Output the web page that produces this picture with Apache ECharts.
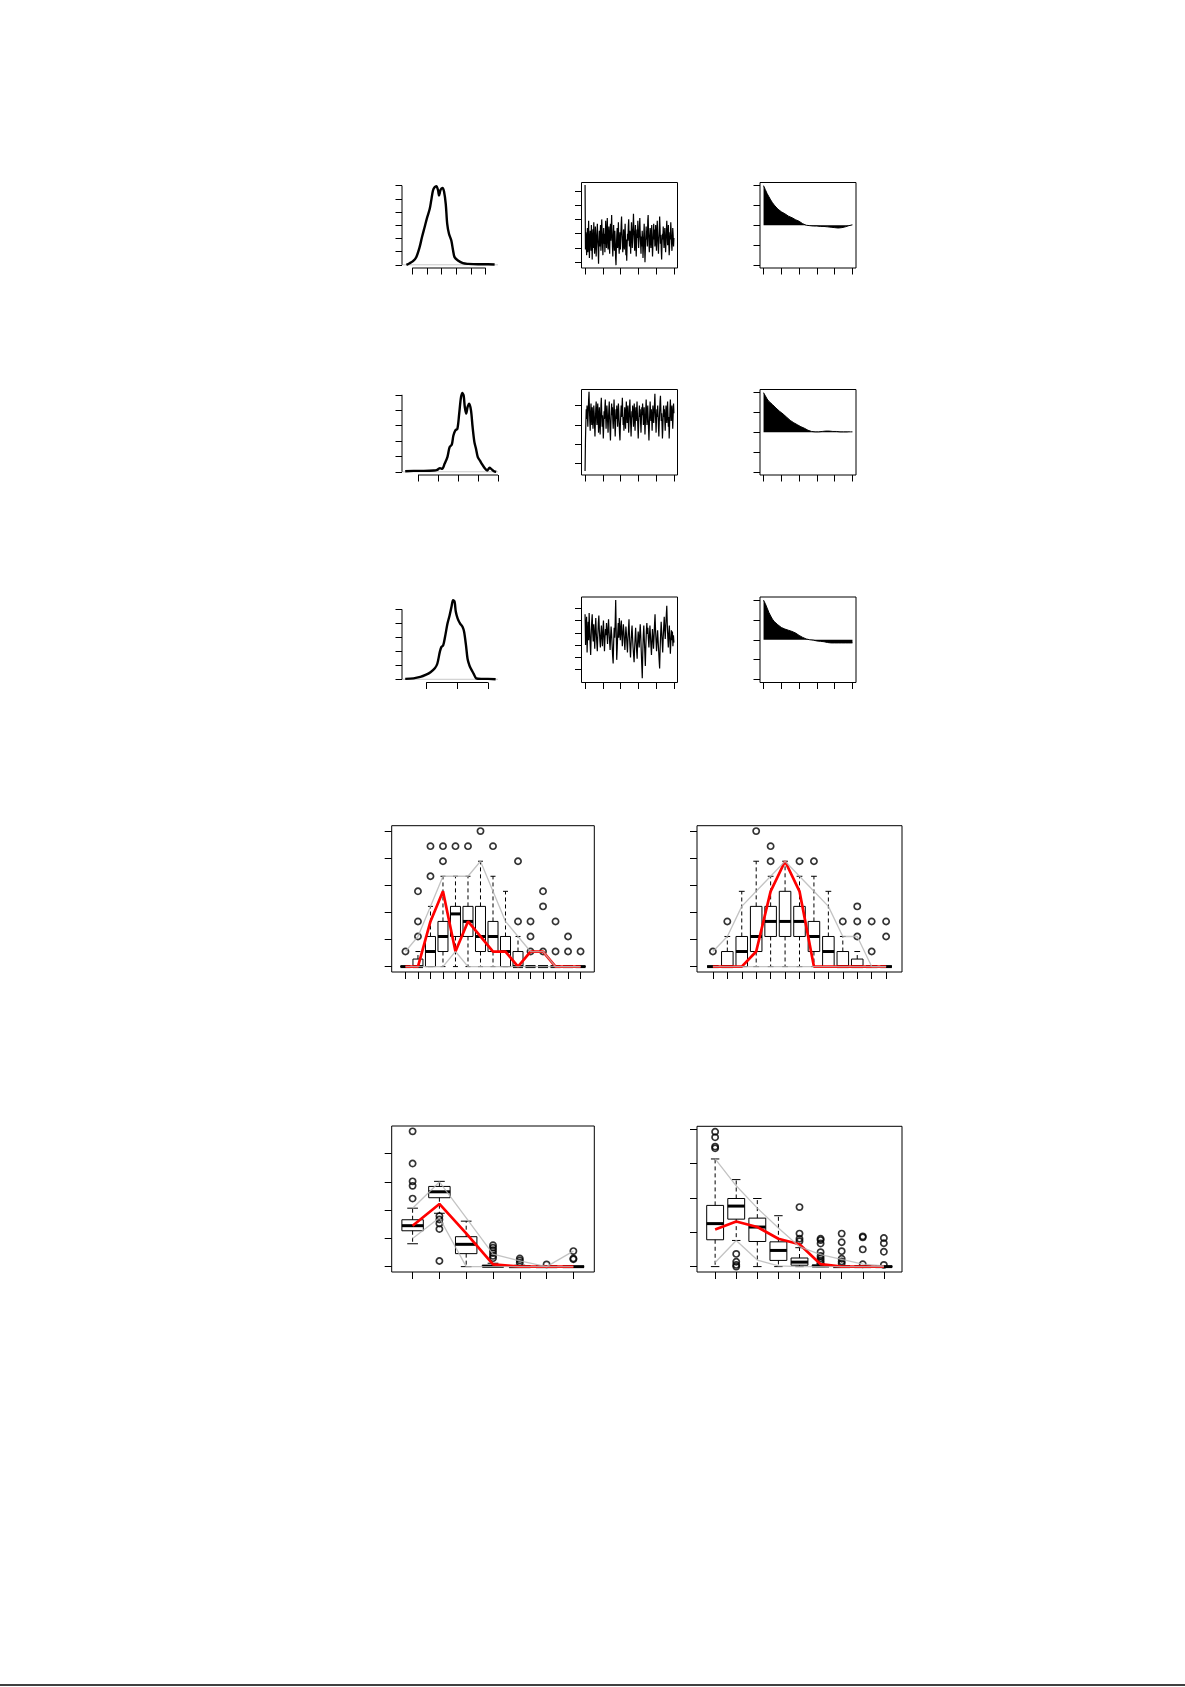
<!DOCTYPE html>
<html><head><meta charset="utf-8">
<script src="https://cdn.jsdelivr.net/npm/echarts@6/dist/echarts.min.js"></script>
<style>html,body{margin:0;padding:0;background:#fff}#c{width:1185px;height:1687px}</style>
</head><body><div id="c"></div><script>
// ================= DATA =================
// posterior densities (rows 1-3, left column)
const dens1X = [-0.40,-0.18,0.05,0.27,0.50,0.66,0.84,1.02,1.19,1.29,1.41,1.52,1.64,1.76,1.82,1.93,2.05,2.16,2.28,2.38,2.50,2.66,2.78,2.88,3.11,3.45,3.80,4.47,5.16,5.61];
const dens1Y = [0.00,0.12,0.28,0.58,1.34,2.09,2.85,3.61,4.24,4.87,5.63,5.88,5.96,5.63,5.25,5.68,5.83,5.58,4.62,3.10,2.35,1.84,1.08,0.58,0.33,0.12,0.07,0.04,0.04,0.02];
const dens2X = [-0.64,-0.22,0.29,0.79,0.96,1.10,1.21,1.33,1.47,1.58,1.69,1.77,1.87,1.97,2.06,2.14,2.21,2.28,2.34,2.41,2.48,2.56,2.65,2.73,2.82,2.90,2.99,3.09,3.19,3.32,3.46,3.58,3.66,3.80,3.91];
const dens2Y = [0.04,0.06,0.06,0.08,0.13,0.24,0.19,0.52,0.95,1.60,1.76,2.36,2.69,2.80,3.78,4.75,5.12,4.97,4.21,3.78,4.21,4.43,3.99,2.91,1.93,1.50,0.95,0.74,0.52,0.26,0.08,0.26,0.19,0.04,0.00];
const dens3X = [-0.68,-0.41,-0.19,-0.02,0.14,0.28,0.36,0.44,0.49,0.55,0.61,0.69,0.76,0.82,0.87,0.92,0.96,1.02,1.10,1.18,1.23,1.29,1.34,1.40,1.45,1.54,1.62,1.78,2.00,2.25];
const dens3Y = [0.03,0.07,0.17,0.31,0.51,0.79,1.11,1.94,2.30,2.42,3.02,3.98,4.58,5.18,5.66,5.54,4.82,4.34,3.98,3.74,3.38,2.42,1.47,0.99,0.75,0.39,0.07,0.03,0.03,0.00];
const dens1XTicks = [0,1,2,3,4,5], dens1YTicks = [0,1,2,3,4,5,6];
const dens2XTicks = [0,1,2,3,4],   dens2YTicks = [0,1,2,3,4,5];
const dens3XTicks = [0,1,2],       dens3YTicks = [0,1,2,3,4,5];

// MCMC traces (middle column)
const trace1 = [5.4,0.9,2.1,1.3,0.5,1.8,2.4,0.7,1.5,2.9,1.1,0.3,1.6,2.2,1.9,0.8,2.6,1.4,0.2,1.7,2.3,1.0,2.8,1.6,0.6,
  1.2,2.5,1.8,0.4,1.3,2.0,2.7,1.5,0.9,-0.1,1.4,2.2,1.1,1.9,2.6,0.8,1.5,3.0,2.1,1.2,0.5,1.8,2.4,1.3,2.0,
  0.7,1.6,2.9,2.2,1.0,1.7,3.1,1.9,0.9,1.4,2.5,1.2,0.6,2.0,2.7,1.5,2.3,3.3,2.0,1.1,0.4,1.8,2.6,1.4,0.8,
  2.2,1.5,0.3,-0.2,1.1,1.9,2.4,1.0,1.7,2.8,1.3,0.6,1.5,2.1,0.9,1.8,2.6,3.2,2.1,1.4,0.7,1.2,2.3,1.6,0.9,
  1.9,2.7,1.3,0.5,1.6,0.1,1.2,2.0,1.5,2.5,3.0,1.8,1.1,2.2,1.4,0.6,1.9,2.8,2.2,1.0,1.7,2.4,3.4,2.3,1.5,
  0.8,2.0,2.6,1.2,0.4,1.5,2.3,1.7,2.9,1.9,1.0,1.6,2.5,3.1,2.0,1.3,0.6,1.8,1.1,2.2,1.6,0.3,1.0,1.9,2.7,
  1.4,0.0,0.9,1.7,2.5,1.6,2.2,1.1,2.9,3.3,2.1,1.3,0.7,1.6,2.4,1.8,1.0,2.0,2.6,1.5,0.4,1.2,1.9,2.7,1.6,
  2.3,1.1,1.8,2.6,1.4,0.8,2.1,2.9,1.9,1.2,0.6,1.5,2.2,3.2,2.4,1.3,1.9,0.9,0.2,1.3,2.0,1.6,2.5,1.7,1.0,
  1.8,2.4,1.5,0.7,1.4,2.3,2.9,2.0,1.2,1.7,2.6,1.4,0.5,1.1,2.1,1.6,2.8,2.2,1.3,0.8,1.5,2.4,1.9,1.1,1.7];
const trace2 = [-0.38,1.2,2.1,2.8,2.3,3.0,2.5,1.9,2.7,3.3,3.7,2.8,2.2,1.7,2.6,3.1,2.4,2.0,2.9,2.5,1.8,2.3,3.0,2.6,1.9,
  1.4,2.2,2.8,3.2,2.5,2.0,2.7,3.1,2.3,1.6,2.4,2.9,2.1,1.5,2.2,3.0,3.4,2.6,1.9,2.5,2.0,1.3,1.9,2.7,2.3,
  2.9,3.3,2.5,1.8,2.4,3.0,2.6,2.1,1.6,2.3,2.8,3.2,2.4,1.7,1.2,2.0,2.6,3.1,2.5,2.9,2.2,1.8,2.5,3.3,2.7,
  2.0,1.4,2.1,2.8,2.3,3.0,2.6,1.9,2.4,3.1,2.7,2.1,1.5,1.2,2.0,2.5,3.0,2.4,2.8,3.4,2.6,2.0,2.4,1.7,2.3,
  2.9,2.4,1.8,2.6,3.2,2.7,2.1,2.5,3.0,2.2,1.6,2.3,2.9,3.3,2.6,2.0,1.4,2.1,2.7,2.4,3.0,2.5,1.9,2.6,3.1,
  2.3,1.7,2.4,2.9,2.2,2.7,3.2,2.5,1.9,1.3,2.0,2.6,3.0,2.4,2.8,2.1,1.6,2.3,2.9,2.5,3.1,2.6,2.0,2.4,2.9,
  2.2,1.5,2.1,2.8,3.3,2.6,2.0,2.5,3.0,2.4,1.8,1.2,1.9,2.6,3.2,2.7,2.2,2.8,2.3,1.7,2.4,3.0,2.6,2.1,2.5,
  3.1,3.6,2.8,2.2,1.6,2.3,2.8,2.4,3.0,2.5,1.9,1.4,2.1,2.7,3.2,3.5,2.8,2.2,2.6,2.0,1.3,1.8,2.5,3.0,2.4,
  2.8,2.2,1.7,2.4,3.0,2.6,2.1,2.7,3.2,2.5,1.9,2.4,1.3,2.0,2.8,3.3,2.7,2.2,2.6,3.0,2.4,1.8,2.5,3.1,2.6];
const trace3 = [4.5,2.0,3.6,4.3,1.4,2.9,3.9,2.4,4.6,3.3,2.1,1.2,2.8,3.9,4.5,3.0,2.3,3.7,2.7,1.7,3.3,4.2,3.0,2.2,1.5,
  2.8,3.8,4.4,3.2,2.4,1.8,2.9,3.6,2.6,1.9,3.2,4.0,2.7,1.5,2.5,3.3,2.8,3.8,2.9,2.1,3.4,4.1,3.1,2.3,1.6,
  2.7,3.5,2.9,2.0,1.1,0.5,2.2,3.4,2.6,3.9,5.67,3.1,0.8,1.8,3.0,3.8,2.6,4.2,3.5,2.4,3.3,4.0,2.8,1.9,3.0,
  3.7,3.1,2.2,1.6,2.7,3.5,2.9,2.1,1.4,2.5,3.3,4.1,2.7,1.8,1.0,2.1,3.0,3.6,2.6,1.8,1.2,0.6,1.7,2.6,3.4,
  2.4,1.5,0.9,2.3,3.1,2.5,1.8,2.9,3.7,2.8,1.5,0.4,-0.7,1.4,2.8,3.6,2.5,1.4,0.3,1.9,3.1,3.8,2.9,3.4,2.5,
  1.8,2.7,3.6,2.8,1.9,1.2,2.4,3.3,2.6,1.7,2.6,3.7,4.5,3.2,2.3,1.5,2.4,3.2,2.4,1.6,0.8,0.1,1.7,2.9,3.9,
  3.1,2.2,1.4,2.6,3.5,4.3,3.2,2.5,3.6,4.4,5.2,3.7,2.6,1.8,2.9,3.6,2.5,1.3,2.3,3.2,2.4,3.1,1.9,2.8,2.2];
const traceXTicks = [0,200,400,600,800,1000];
const trace1YTicks = [0,1,2,3,4,5], trace2YTicks = [0,1,2,3], trace3YTicks = [0,1,2,3,4,5];

// autocorrelations, lags 0..50 (right column)
const acf1 = [1.0,0.90,0.80,0.72,0.64,0.57,0.51,0.46,0.41,0.37,0.34,0.31,0.29,0.26,0.23,0.21,0.19,0.17,0.14,0.12,0.10,0.07,0.04,0.02,0.00,-0.01,-0.01,-0.01,-0.02,-0.02,-0.02,-0.02,-0.03,-0.03,-0.03,-0.04,-0.04,-0.04,-0.05,-0.05,-0.06,-0.06,-0.07,-0.07,-0.06,-0.05,-0.04,-0.02,-0.01,0.00,0.01];
const acf2 = [1.0,0.92,0.84,0.78,0.73,0.70,0.66,0.61,0.57,0.53,0.49,0.46,0.42,0.38,0.34,0.30,0.27,0.24,0.21,0.19,0.17,0.14,0.12,0.10,0.07,0.05,0.03,0.02,0.01,0.01,0.01,0.01,0.02,0.02,0.02,0.03,0.03,0.03,0.02,0.02,0.02,0.02,0.01,0.01,0.01,0.01,0.01,0.01,0.01,0.01,0.01];
const acf3 = [1.0,0.91,0.80,0.69,0.60,0.52,0.46,0.42,0.38,0.34,0.31,0.29,0.27,0.25,0.24,0.22,0.21,0.19,0.17,0.14,0.11,0.09,0.06,0.04,0.02,0.01,0.00,-0.01,-0.01,-0.02,-0.03,-0.03,-0.04,-0.04,-0.05,-0.06,-0.07,-0.08,-0.08,-0.08,-0.08,-0.08,-0.08,-0.08,-0.08,-0.08,-0.08,-0.08,-0.08,-0.08,-0.08];
const acfXTicks = [0,10,20,30,40,50], acfYTicks = [-1,-0.5,0,0.5,1];

// boxplot panel A (15 classes)
const aLo  = [0,0,0,0,0,0,0,0,0,0,0,0,0,0,0];
const aQ1  = [0,0,0,1,2,2,1,1,0,0,0,0,0,0,0];
const aMed = [0,0,1,2,3.5,3,2,2,1,0,0,0,0,0,0];
const aQ3  = [0,0.5,2,3,4,4,4,3,2,1,0,0,0,0,0];
const aHi  = [0,1,4,6,6,6,7,6,5,2,0,0,0,0,0];
const aOut = [[1],[2,3,5],[6,8],[7,8],[8],[8],[9],[8],[],[3,7],[1,2,3],[1,4,5],[1,3],[1,2],[1]];
const aObs = [0,0,3,5,1,3,2,1,1,0,1,1,0,0,0];
const aUp  = [1,2,4,6,6,6,7,5,3,2,1,1,0,0,0];
const aLow = [0,0,0,0,1,0,0,0,0,0,0,0,0,0,0];
// boxplot panel B (13 classes)
const bLo  = [0,0,0,0,0,0,0,0,0,0,0,0,0];
const bQ1  = [0,0,0,1,2,2,2,1,0,0,0,0,0];
const bMed = [0,0,1,2,3,3,3,2,1,0,0,0,0];
const bQ3  = [0,1,2,4,4,5,4,3,2,1,0.5,0,0];
const bHi  = [0,2,5,7,6,7,6,6,5,2,1,0,0];
const bOut = [[1],[3],[],[9],[7,8],[],[7],[7],[],[3],[2,3,4],[1,3],[2,3]];
const bObs = [0,0,0,1,5,7,5,0,0,0,0,0,0];
const bUp  = [1,2,4,5,6,7,6,5,4,2,2,0,0];
const bLow = [0,0,0,0,0,0,0,0,0,0,0,0,0];
const countTicks = [0,1.8,3.6,5.4,7.2,9];
// boxplot panel C (7 classes)
const cLo  = [0.81,1.89,0,0,0,0,0];
const cQ1  = [1.27,2.44,0.46,0,0,0,0];
const cMed = [1.45,2.65,0.79,0.01,0,0,0];
const cQ3  = [1.66,2.84,1.06,0.05,0.02,0,0];
const cHi  = [2.07,3.02,1.61,0.12,0.05,0,0];
const cOut = [[2.41,2.86,3.02,3.65,4.79],[1.79,1.67,1.53,1.33,0.20],[],[0.30,0.38,0.48,0.58,0.67,0.76],[0.14,0.22,0.29],[0.08],[0.26,0.29,0.55]];
const cObs = [1.45,2.22,1.18,0.08,0,0,0];
const cUp  = [2.07,3.00,1.73,0.44,0.20,0,0.55];
const cLow = [1.00,1.73,0,0,0,0,0];
// boxplot panel D (9 classes)
const dLo  = [0,0.76,0,0,0,0,0,0,0];
const dQ1  = [0.78,1.38,0.73,0.18,0.04,0,0,0,0];
const dMed = [1.25,1.76,1.15,0.47,0.13,0.02,0,0,0];
const dQ3  = [1.78,1.98,1.41,0.72,0.25,0.04,0,0,0];
const dHi  = [3.13,2.53,1.98,1.48,0.55,0.08,0,0,0];
const dOut = [[3.44,3.49,3.76,3.92],[0.37,0.14,0.05,0.0],[],[],[0.74,0.81,0.96,1.73],[0.12,0.18,0.24,0.31,0.42,0.67,0.77,0.81],[0.09,0.15,0.23,0.45,0.71,0.96],[0.07,0.50,0.85,0.88],[0.05,0.43,0.68,0.83]];
const dObs = [1.08,1.31,1.15,0.81,0.65,0.07,0,0,0];
const dUp  = [3.13,2.35,1.70,1.12,0.58,0.35,0.21,0.07,0.02];
const dLow = [0.12,0.76,0.19,0.02,0,0,0,0,0];
const unitTicks = [0,1,2,3,4];

// ================= LAYOUT =================
const COLS = [402, 581.5, 760], COLW = 96;
const ROWS = [182.5, 389.5, 597], ROWH = 85.5;
const TL = 6.5;
const grid = [], xAxis = [], yAxis = [], series = [];

function axis(gi, ext, ticks, len) {
  return {type:'value', gridIndex:gi, min:ext[0], max:ext[1],
    axisLine:{show:false, onZero:false}, splitLine:{show:false}, axisLabel:{show:false},
    axisTick:{show:true, inside:false, length:len, lineStyle:{color:'#000', width:1}, customValues:ticks},
    axisPointer:{show:false}};
}
function panel(rect, xExt, yExt, xTicks, yTicks, boxed, len) {
  const gi = grid.length;
  grid.push({left:rect[0], top:rect[1], width:rect[2], height:rect[3], show:boxed,
    borderColor:'#000', borderWidth:1, backgroundColor:'rgba(0,0,0,0)'});
  xAxis.push(axis(gi, xExt, xTicks, len));
  yAxis.push(axis(gi, yExt, yTicks, len));
  return gi;
}
function line(gi, data, ls, extra) {
  return Object.assign({type:'line', xAxisIndex:gi, yAxisIndex:gi, data:data, symbol:'none',
    silent:true, animation:false, lineStyle:ls}, extra || {});
}
const zip = (xs, ys) => xs.map((x, i) => [x, ys[i]]);

function density(c, r, dx, dy, xExt, yExt, xt, yt) {
  const gi = panel([COLS[c], ROWS[r], COLW, ROWH], xExt, yExt, xt, yt, false, TL);
  series.push(line(gi, [[xExt[0], 0], [xExt[1], 0]], {color:'#c8c8c8', width:1}));
  series.push(line(gi, zip(dx, dy), {color:'#000', width:2.4}, {smooth:0.3}));
  series.push(line(gi, [[xt[0], yExt[0]], [xt[xt.length-1], yExt[0]]], {color:'#000', width:1}, {clip:false}));
  series.push(line(gi, [[xExt[0], yt[0]], [xExt[0], yt[yt.length-1]]], {color:'#000', width:1}, {clip:false}));
}
function trace(r, vals, yExt, yt) {
  const gi = panel([COLS[1], ROWS[r], COLW, ROWH], [-39, 1040], yExt, traceXTicks, yt, true, TL);
  const n = vals.length;
  series.push(line(gi, vals.map((v, i) => [1 + i * 999 / (n - 1), v]), {color:'#000', width:1.2}));
}
function acf(r, vals) {
  const gi = panel([COLS[2], ROWS[r], COLW, ROWH], [-2, 52], [-1.08, 1.08], acfXTicks, acfYTicks, true, TL);
  series.push(line(gi, vals.map((v, i) => [i, v]), {color:'#000', width:1},
    {areaStyle:{color:'#000', opacity:1}}));
}

density(0, 0, dens1X, dens1Y, [-0.70, 5.84], [-0.242, 6.235], dens1XTicks, dens1YTicks);
density(0, 1, dens2X, dens2Y, [-0.80, 4.00], [-0.208, 5.344], dens2XTicks, dens2YTicks);
density(0, 2, dens3X, dens3Y, [-0.784, 2.327], [-0.229, 5.88], dens3XTicks, dens3YTicks);
trace(0, trace1, [-0.40, 5.58], trace1YTicks);
trace(1, trace2, [-0.58, 3.82], trace2YTicks);
trace(2, trace3, [-1.04, 5.91], trace3YTicks);
acf(0, acf1); acf(1, acf2); acf(2, acf3);

function renderBox(params, api) {
  const x = api.value(0);
  const lo = api.coord([x, api.value(1)]), q1 = api.coord([x, api.value(2)]), md = api.coord([x, api.value(3)]);
  const q3 = api.coord([x, api.value(4)]), hi = api.coord([x, api.value(5)]);
  const w = api.size([0.8, 0])[0], cx = md[0], st = w * 0.25;
  const s = {stroke:'#000', fill:'none', lineWidth:1};
  const d = {stroke:'#000', lineWidth:1, lineDash:[4, 3]};
  return {type:'group', children:[
    {type:'line', shape:{x1:cx, y1:q3[1], x2:cx, y2:hi[1]}, style:d},
    {type:'line', shape:{x1:cx, y1:q1[1], x2:cx, y2:lo[1]}, style:d},
    {type:'line', shape:{x1:cx-st, y1:hi[1], x2:cx+st, y2:hi[1]}, style:s},
    {type:'line', shape:{x1:cx-st, y1:lo[1], x2:cx+st, y2:lo[1]}, style:s},
    {type:'rect', shape:{x:cx-w/2, y:q3[1], width:w, height:q1[1]-q3[1]}, style:s},
    {type:'line', shape:{x1:cx-w/2, y1:md[1], x2:cx+w/2, y2:md[1]}, style:{stroke:'#000', lineWidth:3}}
  ]};
}
function boxPanel(rect, xExt, yExt, yt, lo, q1, md, q3, hi, out, obs, up, low) {
  const cats = lo.map((v, i) => i + 1);
  const gi = panel(rect, xExt, yExt, cats, yt, true, 7);
  series.push({type:'custom', xAxisIndex:gi, yAxisIndex:gi, renderItem:renderBox, silent:true, animation:false,
    encode:{x:0, y:[1,2,3,4,5]}, z:2,
    data: cats.map((c, i) => [c, lo[i], q1[i], md[i], q3[i], hi[i]])});
  const pts = [];
  out.forEach((arr, i) => arr.forEach(v => pts.push([i + 1, v])));
  series.push({type:'scatter', xAxisIndex:gi, yAxisIndex:gi, data:pts, symbol:'circle', symbolSize:6.2, silent:true,
    animation:false, z:3, itemStyle:{color:'rgba(0,0,0,0)', borderColor:'#000', borderWidth:1.7}});
  series.push(line(gi, zip(cats, obs), {color:'#ff0000', width:2.7}, {z:4}));
  series.push(line(gi, zip(cats, up), {color:'#b4b4b4', width:1.3, opacity:0.8}, {z:5}));
  series.push(line(gi, zip(cats, low), {color:'#b4b4b4', width:1.3, opacity:0.8}, {z:5}));
}
boxPanel([391.7, 825.7, 202.6, 146.3], [-0.1, 16.1], [-0.36, 9.36], countTicks, aLo, aQ1, aMed, aQ3, aHi, aOut, aObs, aUp, aLow);
boxPanel([697, 825.7, 205, 146.3], [-0.1, 14.1], [-0.36, 9.36], countTicks, bLo, bQ1, bMed, bQ3, bHi, bOut, bObs, bUp, bLow);
boxPanel([391.7, 1126, 202.6, 146], [0.22, 7.78], [-0.19, 4.98], unitTicks, cLo, cQ1, cMed, cQ3, cHi, cOut, cObs, cUp, cLow);
boxPanel([697, 1126.3, 205, 145.7], [0.14, 9.86], [-0.157, 4.08], unitTicks, dLo, dQ1, dMed, dQ3, dHi, dOut, dObs, dUp, dLow);

const chart = echarts.init(document.getElementById('c'), null, {renderer:'canvas'});
chart.setOption({
  animation:false, backgroundColor:'#fff',
  grid:grid, xAxis:xAxis, yAxis:yAxis, series:series,
  graphic:[{type:'line', silent:true, shape:{x1:0, y1:1685, x2:1185, y2:1685}, style:{stroke:'#000', lineWidth:1.5}}]
});
</script></body></html>
